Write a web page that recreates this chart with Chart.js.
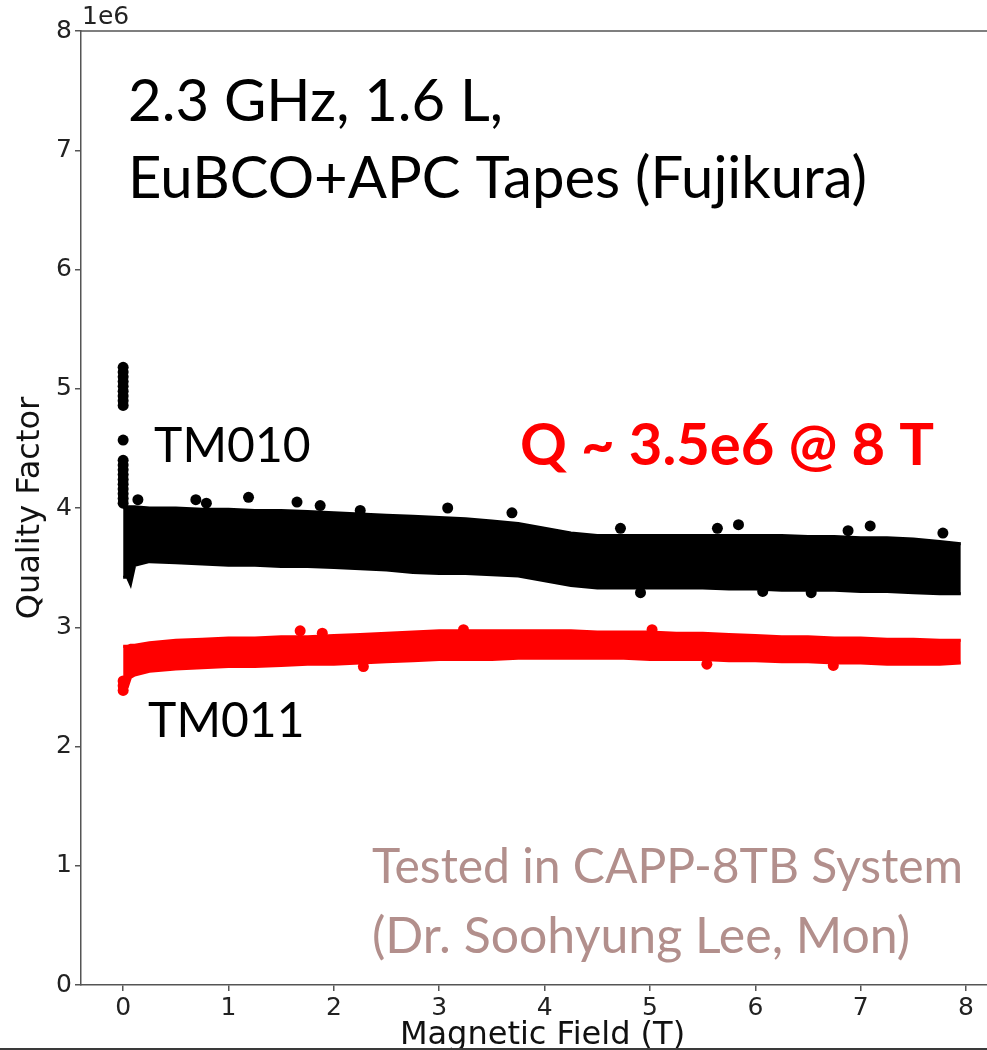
<!DOCTYPE html>
<html>
<head>
<meta charset="utf-8">
<script src="https://cdn.jsdelivr.net/npm/chart.js@4.4.1/dist/chart.umd.min.js"></script>
<style>
  html, body { margin: 0; padding: 0; background: #fff; }
  #frame { width: 987px; height: 1048px; overflow: hidden; }
  #bar { width: 987px; height: 2px; background: #3a3a3a; }
</style>
</head>
<body>
<div id="frame"><canvas id="qchart" width="1012" height="1055"></canvas></div>
<div id="bar"></div>
<script>
const fieldT = [0, 0.04, 0.07, 0.11, 0.25, 0.5, 0.75, 1, 1.25, 1.5, 1.75, 2, 2.25, 2.5, 2.75, 3,
  3.25, 3.5, 3.75, 4, 4.25, 4.5, 4.75, 5, 5.25, 5.5, 5.75, 6, 6.25, 6.5, 6.75, 7, 7.25, 7.5, 7.75, 7.95];

// quality factor, units of 1e6
const tm010Upper = [4.00, 4.01, 4.01, 4.01, 4.00, 4.00, 3.99, 3.99, 3.98, 3.98, 3.97, 3.96, 3.95, 3.94, 3.93, 3.92,
  3.91, 3.89, 3.87, 3.83, 3.79, 3.77, 3.77, 3.77, 3.77, 3.77, 3.77, 3.77, 3.77, 3.76, 3.76, 3.75, 3.75, 3.74, 3.72, 3.70];
const tm010Lower = [3.42, 3.42, 3.36, 3.52, 3.55, 3.54, 3.53, 3.52, 3.52, 3.51, 3.51, 3.50, 3.49, 3.48, 3.46, 3.45,
  3.45, 3.44, 3.43, 3.39, 3.35, 3.33, 3.33, 3.33, 3.33, 3.33, 3.32, 3.32, 3.31, 3.31, 3.31, 3.30, 3.30, 3.29, 3.28, 3.28];
const tm011Upper = [2.84, 2.84, 2.85, 2.85, 2.87, 2.89, 2.90, 2.91, 2.91, 2.92, 2.92, 2.93, 2.94, 2.95, 2.96, 2.97,
  2.97, 2.97, 2.97, 2.97, 2.97, 2.96, 2.96, 2.96, 2.95, 2.95, 2.94, 2.93, 2.92, 2.92, 2.91, 2.91, 2.90, 2.90, 2.89, 2.89];
const tm011Lower = [2.45, 2.50, 2.58, 2.60, 2.63, 2.65, 2.66, 2.67, 2.67, 2.68, 2.69, 2.69, 2.70, 2.71, 2.72, 2.73,
  2.73, 2.73, 2.74, 2.74, 2.74, 2.74, 2.74, 2.73, 2.73, 2.73, 2.72, 2.72, 2.71, 2.71, 2.70, 2.70, 2.69, 2.69, 2.69, 2.70];

// column of points right at 0 T
const tm010SpikeQ = [5.18, 5.14, 5.10, 5.06, 5.02, 4.98, 4.94, 4.90, 4.86, 4.57,
  4.40, 4.36, 4.32, 4.28, 4.24, 4.20, 4.16, 4.12, 4.08, 4.04];
const tm011SpikeQ = [2.47, 2.51, 2.55];

// stray points outside the bands
const tm010StrayT = [0.14, 0.69, 0.79, 1.19, 1.65, 1.87, 2.25, 3.08, 3.69, 4.72, 5.64, 5.84, 6.88, 7.09, 7.78, 4.91, 6.07, 6.53];
const tm010StrayQ = [4.07, 4.07, 4.04, 4.09, 4.05, 4.02, 3.98, 4.00, 3.96, 3.83, 3.83, 3.86, 3.81, 3.85, 3.79, 3.29, 3.30, 3.29];
const tm011StrayT = [1.68, 1.89, 3.23, 5.02, 2.28, 5.54, 6.74];
const tm011StrayQ = [2.97, 2.95, 2.98, 2.98, 2.67, 2.69, 2.68];

const xTicks = [0, 1, 2, 3, 4, 5, 6, 7, 8];
const yTicks = [0, 1, 2, 3, 4, 5, 6, 7, 8];

const pts = (xs, ys) => xs.map((x, i) => ({ x: x, y: ys[i] }));

const notes = [
  { text: '2.3 GHz, 1.6 L,', x: 0.047, y: 7.245, font: '58px Lato', color: '#000' },
  { text: 'EuBCO+APC Tapes (Fujikura)', x: 0.047, y: 6.60, font: '58px Lato', color: '#000' },
  { text: 'TM010', x: 0.294, y: 4.386, font: '48px Lato', color: '#000' },
  { text: 'TM011', x: 0.237, y: 2.08, font: '48px Lato', color: '#000' },
  { text: 'Q ~ 3.5e6 @ 8 T', x: 3.767, y: 4.36, font: 'bold 58px Lato', color: '#ff0000' },
  { text: 'Tested in CAPP-8TB System', x: 2.362, y: 0.855, font: '48px Lato', color: '#b28f8c' },
  { text: '(Dr. Soohyung Lee, Mon)', x: 2.362, y: 0.27, font: '50px Lato', color: '#b28f8c' }
];

const extras = {
  id: 'extras',
  afterDatasetsDraw(chart) {
    const ctx = chart.ctx, a = chart.chartArea;
    const xs = chart.scales.x, ys = chart.scales.y;
    ctx.save();
    ctx.textAlign = 'left';
    ctx.textBaseline = 'alphabetic';
    notes.forEach(n => {
      ctx.font = n.font;
      ctx.fillStyle = n.color;
      ctx.fillText(n.text, xs.getPixelForValue(n.x), ys.getPixelForValue(n.y));
    });
    // top and right spines
    ctx.strokeStyle = '#555';
    ctx.lineWidth = 1.5;
    ctx.beginPath();
    ctx.moveTo(a.left, a.top);
    ctx.lineTo(a.right, a.top);
    ctx.lineTo(a.right, a.bottom);
    ctx.stroke();
    // offset text of the y axis
    ctx.font = '25px "DejaVu Sans"';
    ctx.fillStyle = '#222';
    ctx.textBaseline = 'bottom';
    ctx.fillText('1e6', a.left + 1, a.top - 1);
    ctx.restore();
  }
};

Chart.defaults.font.family = '"DejaVu Sans", sans-serif';

const dot = 5.5;

new Chart(document.getElementById('qchart'), {
  type: 'scatter',
  data: {
    datasets: [
      { label: 'TM011 low', data: pts(fieldT, tm011Lower), showLine: true, fill: false,
        borderColor: '#ff0000', backgroundColor: '#ff0000', borderWidth: 3, pointRadius: 0, tension: 0 },
      { label: 'TM011 high', data: pts(fieldT, tm011Upper), showLine: true, fill: '-1',
        borderColor: '#ff0000', backgroundColor: '#ff0000', borderWidth: 3, pointRadius: 0, tension: 0 },
      { label: 'TM010 low', data: pts(fieldT, tm010Lower), showLine: true, fill: false,
        borderColor: '#000', backgroundColor: '#000', borderWidth: 3, pointRadius: 0, tension: 0 },
      { label: 'TM010 high', data: pts(fieldT, tm010Upper), showLine: true, fill: '-1',
        borderColor: '#000', backgroundColor: '#000', borderWidth: 3, pointRadius: 0, tension: 0 },
      { label: 'TM010 spike', data: tm010SpikeQ.map(q => ({ x: 0, y: q })),
        pointRadius: dot, pointBackgroundColor: '#000', pointBorderWidth: 0 },
      { label: 'TM011 spike', data: tm011SpikeQ.map(q => ({ x: 0, y: q })),
        pointRadius: dot, pointBackgroundColor: '#ff0000', pointBorderWidth: 0 },
      { label: 'TM010 stray', data: pts(tm010StrayT, tm010StrayQ),
        pointRadius: dot, pointBackgroundColor: '#000', pointBorderWidth: 0 },
      { label: 'TM011 stray', data: pts(tm011StrayT, tm011StrayQ),
        pointRadius: dot, pointBackgroundColor: '#ff0000', pointBorderWidth: 0 }
    ]
  },
  options: {
    responsive: false,
    animation: false,
    layout: { padding: { top: 31, right: 8, bottom: 0, left: 0 } },
    plugins: { legend: { display: false }, tooltip: { enabled: false } },
    scales: {
      x: {
        type: 'linear', min: -0.4, max: 8.36,
        afterFit(s) { s.height = 70; },
        afterBuildTicks(s) { s.ticks = xTicks.map(v => ({ value: v })); },
        ticks: { color: '#222', font: { size: 25 }, padding: 2 },
        grid: { drawOnChartArea: false, tickLength: 6, color: '#555', lineWidth: 1.5 },
        border: { color: '#555', width: 1.5 },
        title: { display: true, text: 'Magnetic Field (T)', color: '#111', font: { size: 32 },
          padding: { top: 0, bottom: 0 } }
      },
      y: {
        type: 'linear', min: 0, max: 8,
        afterFit(s) { s.width = 81; },
        afterBuildTicks(s) { s.ticks = yTicks.map(v => ({ value: v })); },
        ticks: { color: '#222', font: { size: 25 }, padding: 3 },
        grid: { drawOnChartArea: false, tickLength: 6, color: '#555', lineWidth: 1.5 },
        border: { color: '#555', width: 1.5 },
        title: { display: true, text: 'Quality Factor', color: '#111', font: { size: 32 },
          padding: { top: 11, bottom: 0 } }
      }
    }
  },
  plugins: [extras]
});
</script>
</body>
</html>
